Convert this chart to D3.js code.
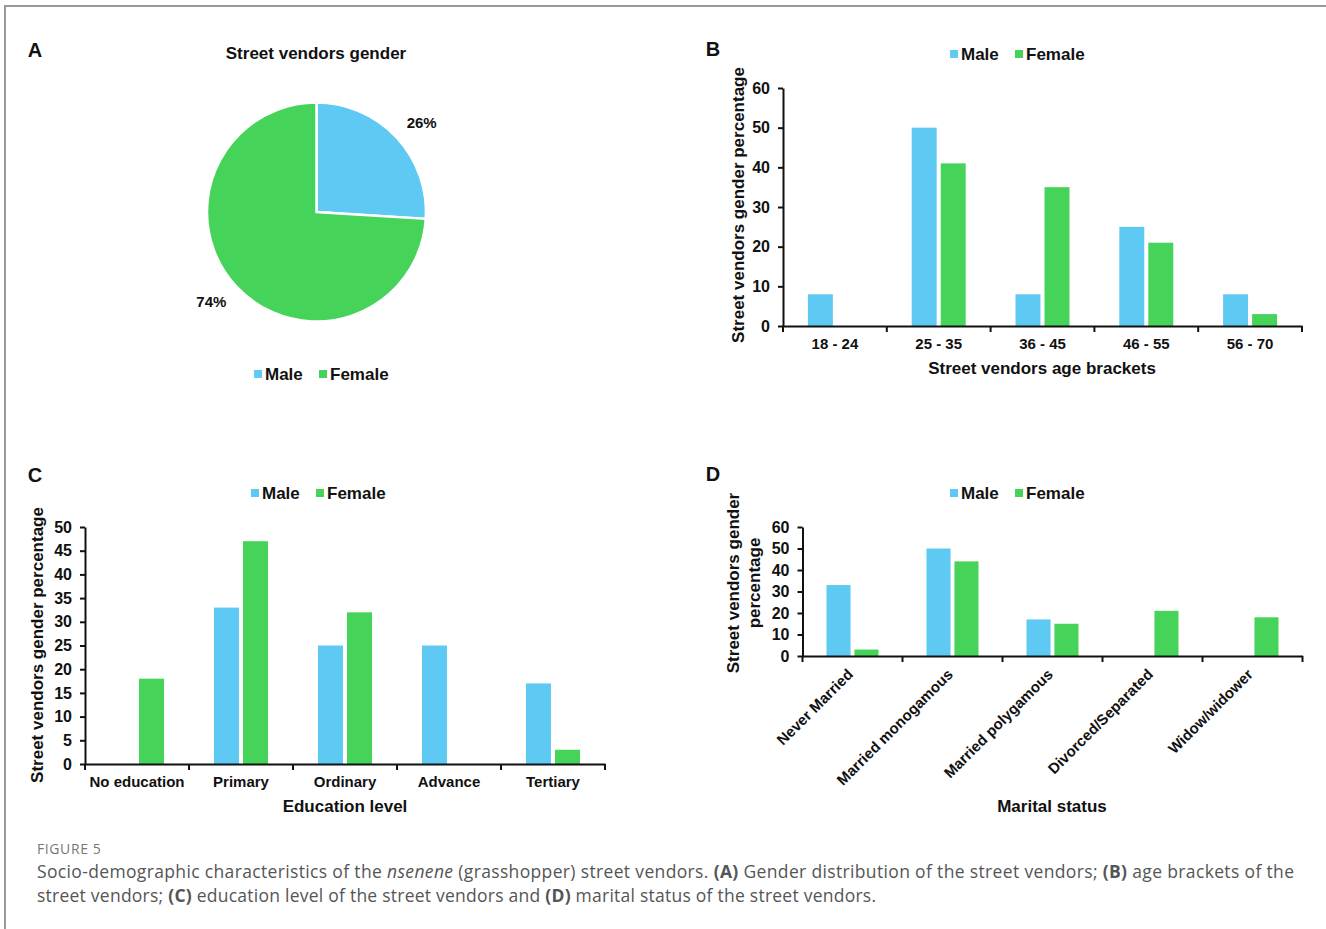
<!DOCTYPE html>
<html><head><meta charset="utf-8">
<script src="https://cdn.jsdelivr.net/npm/d3@7"></script>
<style>body{margin:0;background:#fff}svg{display:block}</style>
</head><body><svg id="c" width="1326" height="929"></svg>
<script>
// ---- data ----
const series = ["Male", "Female"];
const pieValues = [26, 74];
const ageCats = ["18 - 24", "25 - 35", "36 - 45", "46 - 55", "56 - 70"];
const ageMale = [8, 50, 8, 25, 8];
const ageFemale = [0, 41, 35, 21, 3];
const ageTicks = [0, 10, 20, 30, 40, 50, 60];
const eduCats = ["No education", "Primary", "Ordinary", "Advance", "Tertiary"];
const eduMale = [0, 33, 25, 25, 17];
const eduFemale = [18, 47, 32, 0, 3];
const eduTicks = [0, 5, 10, 15, 20, 25, 30, 35, 40, 45, 50];
const marCats = ["Never Married", "Married monogamous", "Married polygamous", "Divorced/Separated", "Widow/widower"];
const marMale = [33, 50, 17, 0, 0];
const marFemale = [3, 44, 15, 21, 18];
const marTicks = [0, 10, 20, 30, 40, 50, 60];

const colors = {Male: "#5ec9f2", Female: "#45d35a"};
const F = "'Liberation Sans', Arial, sans-serif";
const svg = d3.select("#c");
svg.append("rect").attr("width", 1326).attr("height", 929).attr("fill", "#fff");
svg.append("path").attr("d", "M5,929V6H1326").attr("fill", "none").attr("stroke", "#9a9a9a").attr("stroke-width", 2);

function txt(g, x, y, s, size, opts = {}) {
  return g.append("text").attr("x", x).attr("y", y).text(s)
    .attr("font-family", F).attr("font-weight", opts.weight || "bold")
    .attr("font-size", size).attr("fill", opts.fill || "#111")
    .attr("text-anchor", opts.anchor || "middle")
    .attr("dominant-baseline", "central");
}

function legend(x, y) {
  const g = svg.append("g");
  const items = [{s: "Male", x: x}, {s: "Female", x: x + 65}];
  items.forEach(it => {
    g.append("rect").attr("x", it.x).attr("y", y - 4).attr("width", 8).attr("height", 8).attr("fill", colors[it.s]);
    txt(g, it.x + 11, y, it.s, 17, {anchor: "start"});
  });
}

// ---- Panel A ----
txt(svg, 35, 50, "A", 20);
txt(svg, 316, 53, "Street vendors gender", 17);
const pc = {x: 316.5, y: 212};
const pie = d3.pie().sort(null).value(d => d)(pieValues);
const arc = d3.arc().innerRadius(0).outerRadius(109.5);
const gA = svg.append("g").attr("transform", `translate(${pc.x},${pc.y})`);
gA.selectAll("path").data(pie).join("path").attr("d", arc)
  .attr("fill", (d, i) => colors[series[i]]).attr("stroke", "#fff").attr("stroke-width", 2.5);
const labelR = 138;
gA.selectAll("text").data(pie).join("text")
  .attr("transform", d => {
    const a = (d.startAngle + d.endAngle) / 2 + 0.05;
    return `translate(${labelR * Math.sin(a)},${-labelR * Math.cos(a)})`;
  })
  .attr("text-anchor", "middle").attr("dominant-baseline", "central")
  .attr("font-family", F).attr("font-weight", "bold").attr("font-size", 15).attr("fill", "#111")
  .text(d => d.value + "%");
legend(254, 374);

// ---- bar panels ----
function barChart(cfg) {
  const g = svg.append("g");
  const x = d3.scaleBand().domain(cfg.cats).range([cfg.x0, cfg.x1]).paddingInner(0).paddingOuter(0);
  const bw = x.bandwidth();
  const xs = d3.scaleBand().domain(series).range([0.24 * bw, 0.76 * bw]).paddingInner(0.14);
  const y = d3.scaleLinear().domain([0, d3.max(cfg.ticks)]).range([cfg.y0, cfg.yTop]);
  const rows = cfg.cats.map((c, i) => ({c, Male: cfg.male[i], Female: cfg.female[i]}));
  series.forEach(s => {
    g.selectAll(null).data(rows.filter(r => r[s] > 0)).join("rect")
      .attr("x", r => x(r.c) + xs(s)).attr("width", xs.bandwidth())
      .attr("y", r => y(r[s])).attr("height", r => y(0) - y(r[s]))
      .attr("fill", colors[s]);
  });
  // y axis
  const ya = g.append("g").attr("transform", `translate(${cfg.x0},0)`)
    .call(d3.axisLeft(y).tickValues(cfg.ticks).tickSize(5).tickPadding(8).tickSizeOuter(0));
  ya.select(".domain").attr("stroke", "#111").attr("stroke-width", 2);
  ya.selectAll(".tick line").attr("stroke", "#111").attr("stroke-width", 2);
  ya.selectAll(".tick text").attr("font-family", F).attr("font-weight", "bold").attr("font-size", 16).attr("fill", "#111");
  // x axis
  const xa = g.append("g").attr("transform", `translate(0,${cfg.y0})`)
    .call(d3.axisBottom(x).tickSize(0).tickPadding(cfg.rot ? 8 : 12).tickSizeOuter(0));
  xa.select(".domain").attr("stroke", "#111").attr("stroke-width", 2);
  xa.selectAll(".tick text").attr("font-family", F).attr("font-weight", "bold").attr("font-size", 15).attr("fill", "#111");
  if (cfg.rot) {
    xa.selectAll(".tick text").attr("text-anchor", "end")
      .attr("transform", "translate(-8,10) rotate(-45)").attr("dy", "0.35em").attr("y", 8).attr("x", 0);
  }
  const bounds = cfg.cats.map(c => x(c)).concat([cfg.x1]);
  g.selectAll(null).data(bounds).join("line")
    .attr("x1", d => d).attr("x2", d => d).attr("y1", cfg.y0).attr("y2", cfg.y0 + 6)
    .attr("stroke", "#111").attr("stroke-width", 2);
  return g;
}

// Panel B
txt(svg, 713, 49, "B", 20);
legend(950, 54);
barChart({cats: ageCats, male: ageMale, female: ageFemale, ticks: ageTicks, x0: 783, x1: 1302, yTop: 88, y0: 326});
txt(svg, 1042, 368, "Street vendors age brackets", 17);
txt(svg, 0, 0, "Street vendors gender percentage", 17).attr("transform", "translate(738,205) rotate(-90)");

// Panel C
txt(svg, 35, 475, "C", 20);
legend(251, 493);
barChart({cats: eduCats, male: eduMale, female: eduFemale, ticks: eduTicks, x0: 85, x1: 605, yTop: 527, y0: 764});
txt(svg, 345, 806, "Education level", 17);
txt(svg, 0, 0, "Street vendors gender percentage", 17).attr("transform", "translate(37,645) rotate(-90)");

// Panel D
txt(svg, 713, 474, "D", 20);
legend(950, 493);
barChart({cats: marCats, male: marMale, female: marFemale, ticks: marTicks, x0: 802.5, x1: 1302.5, yTop: 527, y0: 656, rot: true});
txt(svg, 1052, 806, "Marital status", 17);
txt(svg, 0, 0, "Street vendors gender", 17).attr("transform", "translate(733,583) rotate(-90)");
txt(svg, 0, 0, "percentage", 17).attr("transform", "translate(754,583) rotate(-90)");

// ---- caption ----
const CF = "'Open Sans', 'Noto Sans', sans-serif";
svg.append("text").attr("x", 37).attr("y", 854).text("FIGURE 5")
  .attr("font-family", CF).attr("font-size", 14).attr("letter-spacing", 0.6).attr("fill", "#777");
const cap1 = svg.append("text").attr("x", 37).attr("y", 878).attr("font-family", CF).attr("font-size", 17.5).attr("fill", "#555")
  .attr("textLength", 1257).attr("lengthAdjust", "spacing");
[["Socio-demographic characteristics of the ", ""], ["nsenene", "i"], [" (grasshopper) street vendors. ", ""], ["(A)", "b"],
 [" Gender distribution of the street vendors; ", ""], ["(B)", "b"], [" age brackets of the", ""]].forEach(([s, t]) => {
  const ts = cap1.append("tspan").text(s);
  if (t === "i") ts.attr("font-style", "italic");
  if (t === "b") ts.attr("font-weight", "bold");
});
const cap2 = svg.append("text").attr("x", 37).attr("y", 902).attr("font-family", CF).attr("font-size", 17.5).attr("fill", "#555")
  .attr("textLength", 839).attr("lengthAdjust", "spacing");
[["street vendors; ", ""], ["(C)", "b"], [" education level of the street vendors and ", ""], ["(D)", "b"], [" marital status of the street vendors.", ""]].forEach(([s, t]) => {
  const ts = cap2.append("tspan").text(s);
  if (t === "b") ts.attr("font-weight", "bold");
});
</script></body></html>
